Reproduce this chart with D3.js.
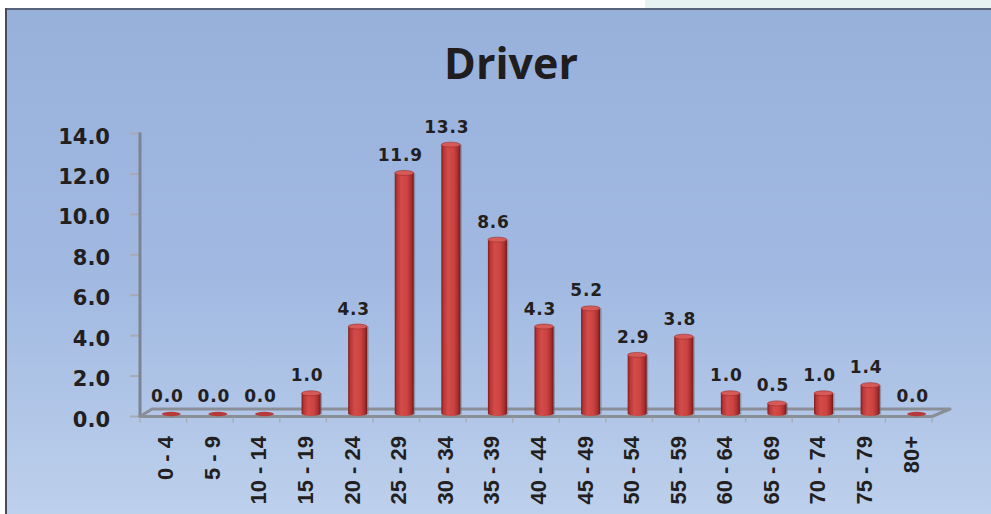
<!DOCTYPE html>
<html>
<head>
<meta charset="utf-8">
<script src="https://cdn.jsdelivr.net/npm/d3@7"></script>
<style>
  html, body { margin: 0; padding: 0; background: #ffffff; }
  svg { display: block; }
</style>
</head>
<body>
<svg id="chart" width="991" height="514"></svg>
<script>
const title = "Driver";
const categories = ["0 - 4","5 - 9","10 - 14","15 - 19","20 - 24","25 - 29","30 - 34","35 - 39","40 - 44","45 - 49","50 - 54","55 - 59","60 - 64","65 - 69","70 - 74","75 - 79","80+"];
const values = [0.0, 0.0, 0.0, 1.0, 4.3, 11.9, 13.3, 8.6, 4.3, 5.2, 2.9, 3.8, 1.0, 0.5, 1.0, 1.4, 0.0];
const yTicks = [0, 2, 4, 6, 8, 10, 12, 14];

const svg = d3.select("#chart");
const W = 991, H = 514;

const defs = svg.append("defs");
const bg = defs.append("linearGradient").attr("id", "bg").attr("x1", 0).attr("y1", 0).attr("x2", 0).attr("y2", 1);
bg.append("stop").attr("offset", "0%").attr("stop-color", "#98b1db");
bg.append("stop").attr("offset", "55%").attr("stop-color", "#a2bae2");
bg.append("stop").attr("offset", "100%").attr("stop-color", "#bdd0ec");

const barG = defs.append("linearGradient").attr("id", "barg").attr("x1", 0).attr("y1", 0).attr("x2", 1).attr("y2", 0);
[["0%","#7e1c1c"],["12%","#b83634"],["35%","#d24c4a"],["65%","#cc4442"],["88%","#a82c2b"],["100%","#6e1818"]]
  .forEach(([o,c]) => barG.append("stop").attr("offset", o).attr("stop-color", c));

// page top strip
svg.append("rect").attr("x", 0).attr("y", 0).attr("width", W).attr("height", 9).attr("fill", "#ffffff");
svg.append("rect").attr("x", 645).attr("y", 0).attr("width", W - 645).attr("height", 9).attr("fill", "#e6f2f2");

// chart area
svg.append("rect").attr("x", 5).attr("y", 8).attr("width", W - 5).attr("height", H - 8).attr("fill", "url(#bg)");
svg.append("line").attr("x1", 5).attr("x2", W).attr("y1", 9).attr("y2", 9).attr("stroke", "#56637a").attr("stroke-width", 2);
svg.append("line").attr("x1", 6).attr("x2", 6).attr("y1", 8).attr("y2", H).attr("stroke", "#4a4d55").attr("stroke-width", 2);

// title
svg.append("text").attr("x", 511).attr("y", 79).attr("text-anchor", "middle")
  .attr("font-family", "'Open Sans', sans-serif").attr("font-weight", 700).attr("font-size", 43)
  .attr("fill", "#1f1d1e").text(title);

// scales
const x = d3.scaleBand().domain(categories).range([140, 932]).padding(0);
const y = d3.scaleLinear().domain([0, 14]).range([416.5, 133.5]);
const depthX = 8, depthY = 3;
const bw = 19;

// y axis ticks and labels
const yAxis = svg.append("g");
yAxis.selectAll("line.tick").data(yTicks).join("line")
  .attr("x1", 130).attr("x2", 140).attr("y1", d => y(d)).attr("y2", d => y(d))
  .attr("stroke", "#a6aab2").attr("stroke-width", 2);
yAxis.append("line").attr("x1", 140).attr("x2", 140).attr("y1", y(14) - 1).attr("y2", y(0) + 1)
  .attr("stroke", "#7c8392").attr("stroke-width", 3);
yAxis.selectAll("text").data(yTicks).join("text")
  .attr("x", 110).attr("y", d => y(d) + 10).attr("text-anchor", "end")
  .attr("font-family", "'DejaVu Sans', sans-serif").attr("font-weight", 700).attr("font-size", 21)
  .attr("fill", "#231f20").text(d => d3.format(".1f")(d));

// floor
const x0 = x.range()[0], x1 = x.range()[1];
const fy = y(0), by = y(0) - 7.5;
svg.append("path")
  .attr("d", `M${x0},${fy} L${x1},${fy} L${x1 + 18},${by} L${x0 + 12},${by} Z`)
  .attr("fill", "none").attr("stroke", "#8a8e97").attr("stroke-width", 3).attr("stroke-linejoin", "round");
// category ticks
const bounds = categories.map(c => x(c)).concat([x1]);
svg.append("g").selectAll("line").data(bounds).join("line")
  .attr("x1", d => d).attr("x2", d => d).attr("y1", fy + 1).attr("y2", fy + 6)
  .attr("stroke", "#a8acb4").attr("stroke-width", 1.5);

// bars
const bars = svg.append("g");
const data = categories.map((c, i) => ({c, v: values[i]}));
data.forEach(d => {
  const cx = x(d.c) + x.bandwidth() / 2 + depthX;
  const base = y(0) - depthY;
  const top = y(d.v) - depthY;
  const g = bars.append("g");
  if (d.v > 0) {
    g.append("rect").attr("x", cx - bw / 2 + 1.5).attr("y", top).attr("width", bw).attr("height", base - top + 1)
      .attr("fill", "#6d7280").attr("opacity", 0.55);
    g.append("path")
      .attr("d", `M${cx - bw/2},${top} L${cx - bw/2},${base} A${bw/2},2.5 0 0 0 ${cx + bw/2},${base} L${cx + bw/2},${top} Z`)
      .attr("fill", "url(#barg)");
    g.append("ellipse").attr("cx", cx).attr("cy", top).attr("rx", bw / 2).attr("ry", 2.5)
      .attr("fill", "#d65a57").attr("stroke", "#9c2a29").attr("stroke-width", 0.6);
  } else {
    g.append("ellipse").attr("cx", cx).attr("cy", base + 0.5).attr("rx", bw / 2).attr("ry", 2.2)
      .attr("fill", "#b83a38");
  }
});

// value labels
svg.append("g").selectAll("text").data(data).join("text")
  .attr("x", d => x(d.c) + x.bandwidth() / 2 + 4)
  .attr("y", d => y(d.v) - depthY - 12)
  .attr("text-anchor", "middle")
  .attr("font-family", "'DejaVu Sans', sans-serif").attr("font-weight", 700).attr("font-size", 17)
  .attr("letter-spacing", 0.8)
  .attr("fill", "#231f20").text(d => d3.format(".1f")(d.v));

// category labels
svg.append("g").selectAll("text").data(categories).join("text")
  .attr("transform", c => `translate(${x(c) + x.bandwidth() / 2 + 2},436) rotate(-90)`)
  .attr("text-anchor", "end").attr("dy", "0.36em")
  .attr("font-family", "'Liberation Sans Narrow', 'Liberation Sans', sans-serif").attr("font-weight", 700).attr("font-size", 22)
  .attr("fill", "#231f20").text(c => c);
</script>
</body>
</html>
